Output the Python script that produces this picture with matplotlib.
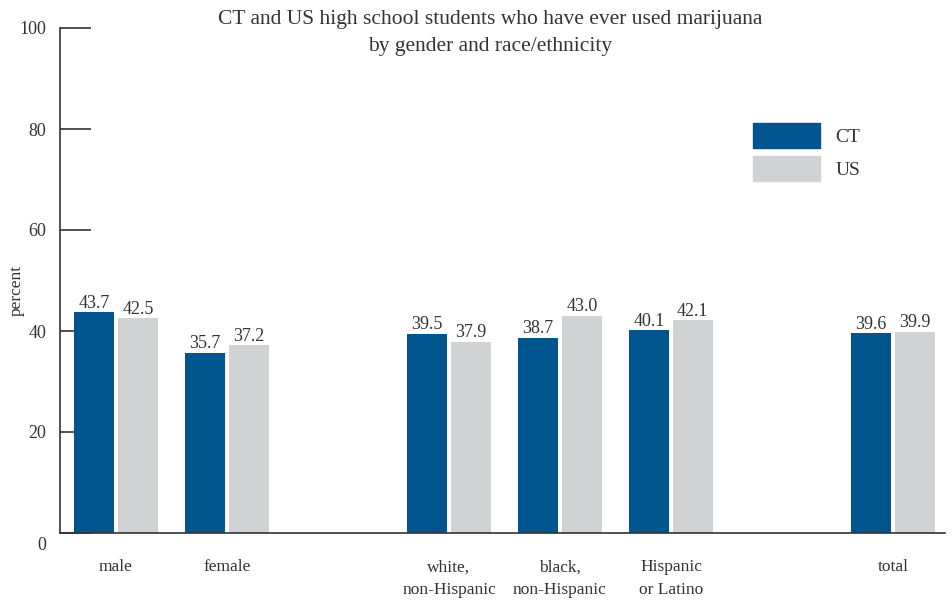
import numpy as np
import matplotlib.pyplot as plt
import matplotlib.transforms as mtransforms
from matplotlib.patches import Patch

plt.rcParams["font.family"] = ["Liberation Serif", "DejaVu Serif"]

# data
groups = ["male", "female", "white,\nnon-Hispanic", "black,\nnon-Hispanic",
          "Hispanic\nor Latino", "total"]
group_pos = [0, 1, 3, 4, 5, 7]
ct_values = [43.7, 35.7, 39.5, 38.7, 40.1, 39.6]
us_values = [42.5, 37.2, 37.9, 43.0, 42.1, 39.9]
series_names = ["CT", "US"]

ct_color = "#00558f"
us_color = "#d1d2d4"
text_color = "#333333"

fig = plt.figure(figsize=(9.52, 6.0), dpi=100)
ax = fig.add_axes([60 / 952, 67 / 600, 885 / 952, 505 / 600])

x = np.array(group_pos, dtype=float)
w = 0.36
off = 0.198
b1 = ax.bar(x - off, ct_values, width=w, color=ct_color, zorder=2)
b2 = ax.bar(x + off, us_values, width=w, color=us_color, zorder=2)

for bars, vals in ((b1, ct_values), (b2, us_values)):
    for b, v in zip(bars, vals):
        ax.text(b.get_x() + b.get_width() / 2, v + 0.1, f"{v:.1f}",
                ha="center", va="bottom", fontsize=13, color=text_color)

ax.set_xlim(-0.505, 7.47)
ax.set_ylim(0, 100)
ax.set_yticks([0, 20, 40, 60, 80, 100])
ax.set_xticks(x)
ax.set_xticklabels(groups, fontsize=12.5, color=text_color, linespacing=1.55)
ax.tick_params(axis="x", length=0, pad=19)
ax.tick_params(axis="y", direction="in", length=22, width=1.2, pad=10,
               labelsize=13, labelcolor=text_color, color="#333333")
# the "0" label sits a little below the baseline
zero_lbl = ax.yaxis.get_major_ticks()[0].label1
zero_lbl.set_transform(zero_lbl.get_transform() +
                       mtransforms.ScaledTranslation(0, -0.1, fig.dpi_scale_trans))

for s in ("top", "right"):
    ax.spines[s].set_visible(False)
for s in ("left", "bottom"):
    ax.spines[s].set_color("#333333")
    ax.spines[s].set_linewidth(1.2)

ax.set_ylabel("percent", fontsize=12.5, color=text_color)
ax.yaxis.set_label_coords(-0.0395, 0.481)

fig.text(490 / 952, 1 - 33 / 600,
         "CT and US high school students who have ever used marijuana\nby gender and race/ethnicity",
         ha="center", va="center", fontsize=15.5, color=text_color, linespacing=1.6)

handles = [Patch(color=ct_color), Patch(color=us_color)]
ax.legend(handles, series_names, loc="upper left",
          bbox_to_anchor=(753 / 952, 1 - 123 / 600), bbox_transform=fig.transFigure,
          frameon=False, borderpad=0, borderaxespad=0, fontsize=14,
          handlelength=3.45, handleheight=1.6, labelspacing=0.4, handletextpad=0.8,
          labelcolor=text_color)

fig.savefig("out.png", dpi=100)
